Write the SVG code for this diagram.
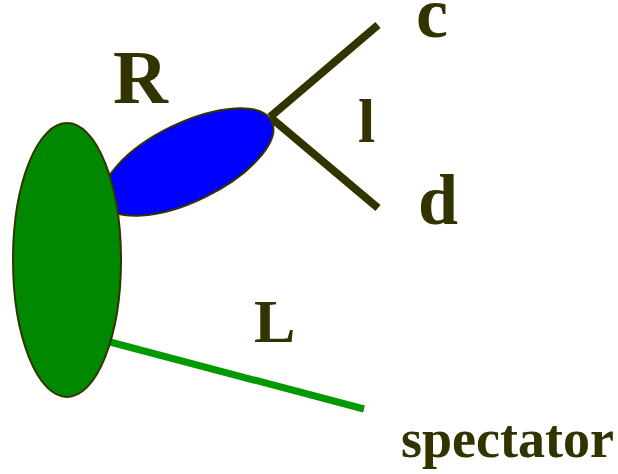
<svg xmlns="http://www.w3.org/2000/svg" width="618" height="474" viewBox="0 0 618 474">
<style>
.lbl{font-family:"Liberation Serif","Times New Roman",serif;font-weight:bold;fill:#333300}
.edge{stroke:#333300;stroke-width:8;fill:none}
.node{stroke:#333300;stroke-width:2}
</style>
<rect width="618" height="474" fill="#ffffff"/>
<g id="connectors">
<line class="edge" x1="270" y1="117" x2="378" y2="25"/>
<line class="edge" x1="270" y1="117" x2="378" y2="208"/>
<line x1="110" y1="342" x2="364" y2="409" stroke="#009900" stroke-width="7"/>
</g>
<g id="R-node">
<ellipse class="node" cx="188" cy="162" rx="93" ry="39" transform="rotate(-26 188 162)" fill="#0000ff"/>
</g>
<g id="L-node">
<ellipse class="node" cx="67" cy="260" rx="54" ry="137" fill="#008800"/>
</g>
<g id="labels">
<text class="lbl" x="113" y="103" font-size="76">R</text>
<text class="lbl" x="416" y="37" font-size="72">c</text>
<text class="lbl" x="358" y="142" font-size="62">l</text>
<text class="lbl" x="418" y="224" font-size="72">d</text>
<text class="lbl" x="254" y="342" font-size="62">L</text>
<text class="lbl" x="401" y="457" font-size="54">spectator</text>
</g>
</svg>
